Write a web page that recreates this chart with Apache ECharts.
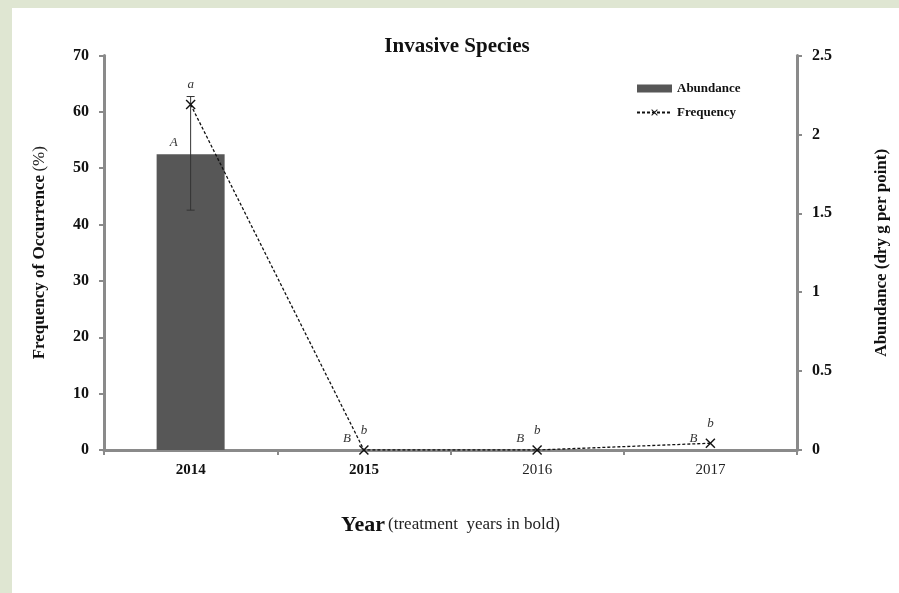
<!DOCTYPE html>
<html>
<head>
<meta charset="utf-8">
<script src="https://cdn.jsdelivr.net/npm/echarts@6/dist/echarts.min.js"></script>
<style>
html,body{margin:0;padding:0;background:#ffffff;}
#chart{width:899px;height:593px;}
</style>
</head>
<body>
<div id="chart"></div>
<script>
// ---- data ----
const years = ['2014', '2015', '2016', '2017'];
const treatmentYear = [true, true, false, false];
const abundance = [1.875, 0, 0, 0];
const abundanceErrLow = [1.52, 0, 0, 0];
const abundanceErrHigh = [2.24, 0, 0, 0];
const frequency = [61.3, 0, 0, 1.2];
const abundanceLetters = ['A', 'B', 'B', 'B'];
const frequencyLetters = ['a', 'b', 'b', 'b'];
const leftTicks = { min: 0, max: 70, interval: 10 };
const rightTicks = { min: 0, max: 2.5, interval: 0.5 };

const serif = 'Liberation Serif, Times New Roman, serif';
const axisGray = '#8a8a8a';
const xMark = 'path://M0,1L1,0L5,4L9,0L10,1L6,5L10,9L9,10L5,6L1,10L0,9L4,5Z';

const chart = echarts.init(document.getElementById('chart'));
chart.setOption({
  backgroundColor: '#ffffff',
  animation: false,
  graphic: [
    { type: 'rect', silent: true, shape: { x: 0, y: 0, width: 12, height: 593 }, style: { fill: '#dfe6d2' } },
    { type: 'rect', silent: true, shape: { x: 0, y: 0, width: 899, height: 8 }, style: { fill: '#dfe6d2' } }
  ],
  title: {
    text: 'Invasive Species',
    left: 452, top: 31, textAlign: 'center',
    textStyle: { fontFamily: serif, fontWeight: 'bold', fontSize: 21, color: '#111' }
  },
  legend: {
    orient: 'vertical',
    left: 636, top: 82,
    padding: 0,
    itemGap: 11,
    itemWidth: 35, itemHeight: 8,
    textStyle: { fontFamily: serif, fontWeight: 'bold', fontSize: 13, color: '#111' },
    data: [
      { name: 'Abundance', icon: 'rect' },
      { name: 'Frequency' }
    ]
  },
  grid: { left: 104, right: 102, top: 55.5, bottom: 143 },
  xAxis: {
    type: 'category',
    data: years,
    boundaryGap: true,
    name: '{y|Year} {t|(treatment  years in bold)}',
    nameLocation: 'middle',
    nameGap: 64,
    nameTextStyle: {
      fontFamily: serif, color: '#111',
      rich: {
        y: { fontFamily: serif, fontWeight: 'bold', fontSize: 22, color: '#111' },
        t: { fontFamily: serif, fontSize: 17, color: '#222' }
      }
    },
    axisLine: { lineStyle: { color: axisGray, width: 3 } },
    axisTick: { show: true, length: 5, lineStyle: { color: axisGray, width: 2 } },
    axisLabel: {
      margin: 13,
      fontFamily: serif, fontSize: 15, color: '#111',
      formatter: function (v, i) {
        return treatmentYear[i] ? '{b|' + v + '}' : '{n|' + v + '}';
      },
      rich: {
        b: { fontFamily: serif, fontWeight: 'bold', fontSize: 15, color: '#111' },
        n: { fontFamily: serif, fontSize: 15, color: '#222' }
      }
    }
  },
  yAxis: [
    {
      type: 'value',
      min: leftTicks.min, max: leftTicks.max, interval: leftTicks.interval,
      position: 'left',
      name: '{b|Frequency of Occurrence} {n|(%)}',
      nameLocation: 'middle',
      nameGap: 56,
      nameRotate: 90,
      nameTextStyle: {
        rich: {
          b: { fontFamily: serif, fontWeight: 'bold', fontSize: 17, color: '#111' },
          n: { fontFamily: serif, fontSize: 17, color: '#222' }
        }
      },
      splitLine: { show: false },
      axisLine: { show: true, lineStyle: { color: axisGray, width: 3 } },
      axisTick: { show: true, length: 5, lineStyle: { color: axisGray, width: 2 } },
      axisLabel: { margin: 15, fontFamily: serif, fontWeight: 'bold', fontSize: 16, color: '#111' }
    },
    {
      type: 'value',
      min: rightTicks.min, max: rightTicks.max, interval: rightTicks.interval,
      position: 'right',
      name: 'Abundance (dry g per point)',
      nameLocation: 'middle',
      nameGap: 76,
      nameRotate: 90,
      nameTextStyle: { fontFamily: serif, fontWeight: 'bold', fontSize: 17, color: '#111' },
      splitLine: { show: false },
      axisLine: { show: true, lineStyle: { color: axisGray, width: 3 } },
      axisTick: { show: true, length: 5, lineStyle: { color: axisGray, width: 2 } },
      axisLabel: { margin: 15, fontFamily: serif, fontWeight: 'bold', fontSize: 16, color: '#111' }
    }
  ],
  series: [
    {
      name: 'Abundance',
      type: 'bar',
      yAxisIndex: 1,
      barWidth: 68,
      data: abundance,
      itemStyle: { color: '#575757' },
      label: {
        show: true,
        position: 'top',
        distance: 5,
        offset: [-17, 0],
        fontFamily: serif, fontStyle: 'italic', fontSize: 13, color: '#333',
        formatter: function (p) { return abundanceLetters[p.dataIndex]; }
      },
      z: 2
    },
    {
      name: 'AbundanceError',
      type: 'custom',
      yAxisIndex: 1,
      data: years.map(function (y, i) { return [i, abundanceErrLow[i], abundanceErrHigh[i]]; }),
      renderItem: function (params, api) {
        const lo = api.value(1), hi = api.value(2);
        if (!(hi > lo)) return null;
        const x = api.value(0);
        const p1 = api.coord([x, lo]);
        const p2 = api.coord([x, hi]);
        const w = 4;
        const st = { stroke: '#333', lineWidth: 1 };
        return {
          type: 'group',
          children: [
            { type: 'line', shape: { x1: p1[0], y1: p1[1], x2: p2[0], y2: p2[1] }, style: st },
            { type: 'line', shape: { x1: p1[0] - w, y1: p1[1], x2: p1[0] + w, y2: p1[1] }, style: st },
            { type: 'line', shape: { x1: p2[0] - w, y1: p2[1], x2: p2[0] + w, y2: p2[1] }, style: st }
          ]
        };
      },
      z: 3,
      silent: true
    },
    {
      name: 'Frequency',
      type: 'line',
      yAxisIndex: 0,
      data: frequency,
      symbol: xMark,
      symbolSize: 10,
      showAllSymbol: true,
      lineStyle: { color: '#111', width: 1.3, type: [3, 2] },
      itemStyle: { color: '#111' },
      label: {
        show: true,
        position: 'top',
        distance: 8,
        fontFamily: serif, fontStyle: 'italic', fontSize: 13, color: '#333',
        formatter: function (p) { return frequencyLetters[p.dataIndex]; }
      },
      z: 4
    }
  ]
});
</script>
</body>
</html>
